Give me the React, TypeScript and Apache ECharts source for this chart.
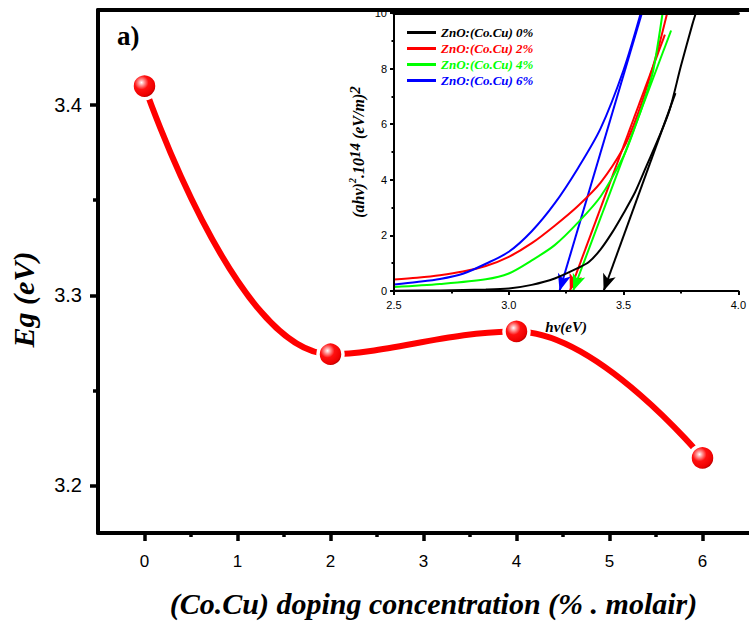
import React, { useEffect, useRef } from "react";
import * as echarts from "echarts";

// Main plot data
const concentration = [0, 2, 4, 6];
const bandGap = [3.41, 3.269, 3.281, 3.2145];
const mainXTicks = [0, 1, 2, 3, 4, 5, 6];
const mainXMinorTicks = [0.5, 1.5, 2.5, 3.5, 4.5, 5.5];
const mainYTicks = [3.2, 3.3, 3.4];
const mainYMinorTicks = [3.25, 3.35];

// Inset (Tauc plot) data
const legendNames = ["ZnO:(Co.Cu) 0%", "ZnO:(Co.Cu) 2%", "ZnO:(Co.Cu) 4%", "ZnO:(Co.Cu) 6%"];

const hv0 = [2.5, 2.7, 2.9, 3.0, 3.1, 3.2, 3.3, 3.35, 3.4, 3.45, 3.5, 3.55, 3.6, 3.65, 3.7, 3.75, 3.8, 3.815];
const tauc0 = [0.01, 0.02, 0.05, 0.09, 0.22, 0.45, 0.82, 1.05, 1.5, 2.1, 2.8, 3.55, 4.5, 5.45, 6.5, 8.1, 9.6, 10];

const hv2 = [2.5, 2.6, 2.7, 2.8, 2.9, 3.0, 3.1, 3.2, 3.3, 3.4, 3.5, 3.55, 3.6, 3.65, 3.69];
const tauc2 = [0.41, 0.48, 0.57, 0.7, 0.9, 1.23, 1.72, 2.35, 3.05, 3.9, 5.15, 6.1, 7.3, 8.7, 10];

const hv4 = [2.5, 2.7, 2.9, 3.0, 3.1, 3.2, 3.3, 3.4, 3.5, 3.55, 3.6, 3.63, 3.67];
const tauc4 = [0.14, 0.25, 0.42, 0.63, 1.1, 1.65, 2.45, 3.4, 4.85, 5.9, 7.1, 7.96, 10];

const hv6 = [2.5, 2.6, 2.7, 2.8, 2.9, 3.0, 3.1, 3.2, 3.3, 3.4, 3.5, 3.575];
const tauc6 = [0.23, 0.32, 0.43, 0.62, 0.98, 1.41, 2.15, 3.15, 4.4, 5.85, 7.95, 10];

// Tangent (extrapolation) lines: [start], [arrow tip on hv axis]
const tangent0 = [[3.726, 7.12], [3.413, 0]];
const tangent2 = [[3.68, 9.22], [3.266, 0]];
const tangent4 = [[3.707, 9.37], [3.28, 0]];
const tangent6 = [[3.58, 10], [3.221, 0]];

const insetHv = [hv0, hv2, hv4, hv6];
const insetTauc = [tauc0, tauc2, tauc4, tauc6];
const insetTangents = [tangent0, tangent2, tangent4, tangent6];

const SERIF = "'Liberation Serif', 'Times New Roman', serif";
const SANS = "'Liberation Sans', Arial, sans-serif";

export default function App() {
  const ref = useRef<HTMLDivElement>(null);

  useEffect(() => {
    if (!ref.current) return;
    const chart = echarts.init(ref.current, null, { renderer: "svg" });
    const colors = ["#000000", "#ff0000", "#00ff00", "#0000ff"];

    const sphere = new echarts.graphic.RadialGradient(0.38, 0.36, 0.62, [
      { offset: 0, color: "#ffffff" },
      { offset: 0.18, color: "#ff9a9a" },
      { offset: 0.45, color: "#ff1010" },
      { offset: 0.85, color: "#ee0000" },
      { offset: 1, color: "#b00000" },
    ]);

    const insetSeries = legendNames.map((name, k) => ({
      name,
      type: "line",
      xAxisIndex: 3,
      yAxisIndex: 2,
      data: insetHv[k].map((x, i) => [x, insetTauc[k][i]]),
      smooth: 0.3,
      showSymbol: false,
      symbol: "none",
      lineStyle: { color: colors[k], width: 2 },
      itemStyle: { color: colors[k] },
      z: 5,
      markLine: {
        silent: true,
        symbol: ["none", "arrow"],
        symbolSize: [10, 17],
        label: { show: false },
        lineStyle: { color: colors[k], width: 2, type: "solid" },
        data: [
          [
            { coord: insetTangents[k][0] },
            { coord: insetTangents[k][1] },
          ],
        ],
      },
    }));

    const supBase = { fontFamily: SERIF, fontStyle: "italic", fontWeight: "bold", color: "#000" };

    const option: any = {
      animation: false,
      backgroundColor: "#ffffff",
      title: {
        text: "a)",
        left: 112,
        top: 17,
        textStyle: { fontFamily: SERIF, fontWeight: "bold", fontSize: 27, color: "#000" },
      },
      legend: {
        orient: "vertical",
        left: 402,
        top: 21,
        icon: "rect",
        itemWidth: 29,
        itemHeight: 3,
        itemGap: 3,
        textStyle: {
          fontFamily: SERIF,
          fontStyle: "italic",
          fontWeight: "bold",
          fontSize: 13,
          lineHeight: 12.5,
        },
        data: legendNames.map((n, k) => ({ name: n, textStyle: { color: colors[k] } })),
      },
      grid: [
        { left: 96, top: 10, width: 658, height: 531, containLabel: false },
        { left: 394, top: 13, width: 357, height: 278, containLabel: false, show: true, backgroundColor: "#fff", borderWidth: 0, z: 3 },
      ],
      xAxis: [
        {
          gridIndex: 0,
          type: "value",
          position: "bottom",
          min: -0.5,
          max: 6.5,
          axisLine: { onZero: false, lineStyle: { color: "#000", width: 4 } },
          axisTick: { show: true, inside: false, length: 8, customValues: mainXTicks, lineStyle: { width: 3.5, color: "#000" } },
          axisLabel: { customValues: mainXTicks, margin: 20, fontFamily: SANS, fontSize: 17, color: "#000" },
          splitLine: { show: false },
          name: "(Co.Cu) doping concentration (% . molair)",
          nameLocation: "middle",
          nameGap: 55,
          nameTextStyle: { fontFamily: SERIF, fontStyle: "italic", fontWeight: "bold", fontSize: 30, color: "#000", verticalAlign: "top", padding: [0, 0, 0, 20] },
        },
        {
          gridIndex: 0,
          type: "value",
          position: "bottom",
          min: -0.5,
          max: 6.5,
          axisLine: { show: false, onZero: false },
          axisTick: { show: true, inside: false, length: 4, customValues: mainXMinorTicks, lineStyle: { width: 3.5, color: "#000" } },
          axisLabel: { show: false },
          splitLine: { show: false },
        },
        {
          gridIndex: 0,
          type: "value",
          position: "top",
          min: -0.5,
          max: 6.5,
          axisLine: { show: true, onZero: false, lineStyle: { color: "#000", width: 4 } },
          axisTick: { show: false },
          axisLabel: { show: false },
          splitLine: { show: false },
        },
        {
          gridIndex: 1,
          type: "value",
          position: "bottom",
          min: 2.5,
          max: 4.0,
          interval: 0.5,
          axisLine: { onZero: false, lineStyle: { color: "#000", width: 2 } },
          axisTick: { show: true, inside: false, length: 4, lineStyle: { width: 2, color: "#000" } },
          minorTick: { show: true, splitNumber: 2, length: 2.5, lineStyle: { width: 2, color: "#000" } },
          axisLabel: { margin: 8, fontFamily: SANS, fontSize: 11, color: "#000", formatter: (v: number) => v.toFixed(1) },
          splitLine: { show: false },
          name: "hv(eV)",
          nameLocation: "middle",
          nameGap: 28,
          nameTextStyle: { fontFamily: SERIF, fontStyle: "italic", fontWeight: "bold", fontSize: 15, color: "#000", verticalAlign: "top" },
          z: 6,
        },
        {
          gridIndex: 1,
          type: "value",
          position: "top",
          min: 2.5,
          max: 4.0,
          axisLine: { show: true, onZero: false, lineStyle: { color: "#000", width: 3 } },
          axisTick: { show: false },
          axisLabel: { show: false },
          splitLine: { show: false },
          z: 6,
        },
      ],
      yAxis: [
        {
          gridIndex: 0,
          type: "value",
          position: "left",
          min: 3.175,
          max: 3.45,
          axisLine: { show: true, onZero: false, lineStyle: { color: "#000", width: 4 } },
          axisTick: { show: true, inside: false, length: 8, customValues: mainYTicks, lineStyle: { width: 3.5, color: "#000" } },
          axisLabel: { customValues: mainYTicks, margin: 16, fontFamily: SANS, fontSize: 20, color: "#000" },
          splitLine: { show: false },
          name: "Eg (eV)",
          nameLocation: "middle",
          nameGap: 60,
          nameRotate: 90,
          nameTextStyle: { fontFamily: SERIF, fontStyle: "italic", fontWeight: "bold", fontSize: 30, color: "#000", padding: [0, 56, 0, 0] },
        },
        {
          gridIndex: 0,
          type: "value",
          position: "left",
          min: 3.175,
          max: 3.45,
          axisLine: { show: false, onZero: false },
          axisTick: { show: true, inside: false, length: 5, customValues: mainYMinorTicks, lineStyle: { width: 3.5, color: "#000" } },
          axisLabel: { show: false },
          splitLine: { show: false },
        },
        {
          gridIndex: 1,
          type: "value",
          position: "left",
          min: 0,
          max: 10,
          interval: 2,
          axisLine: { show: true, onZero: false, lineStyle: { color: "#000", width: 2 } },
          axisTick: { show: true, inside: false, length: 4, lineStyle: { width: 2, color: "#000" } },
          minorTick: { show: true, splitNumber: 2, length: 2.5, lineStyle: { width: 2, color: "#000" } },
          axisLabel: { margin: 7, fontFamily: SANS, fontSize: 11, color: "#000" },
          splitLine: { show: false },
          name: "(ahv){s|2}.10{b|14} (eV/m){b|2}",
          nameLocation: "middle",
          nameGap: 24,
          nameRotate: 90,
          nameTextStyle: {
            ...supBase,
            fontSize: 16,
            lineHeight: 23,
            rich: {
              s: { ...supBase, fontSize: 10, lineHeight: 10, verticalAlign: "top" },
              b: { ...supBase, fontSize: 15, lineHeight: 15, verticalAlign: "top" },
            },
          },
          z: 6,
        },
      ],
      series: [
        {
          name: "Eg",
          type: "line",
          xAxisIndex: 0,
          yAxisIndex: 0,
          data: concentration.map((c, i) => [c, bandGap[i]]),
          smooth: 0.4,
          symbol: "circle",
          symbolSize: 25,
          lineStyle: { color: "#ff0000", width: 6 },
          itemStyle: { color: sphere, borderColor: "#ffffff", borderWidth: 3.5 },
          z: 2,
        },
        ...insetSeries,
      ],
    };

    chart.setOption(option);
    return () => chart.dispose();
  }, []);

  return <div ref={ref} style={{ width: 749, height: 623, position: "absolute", left: 0, top: 0 }} />;
}
